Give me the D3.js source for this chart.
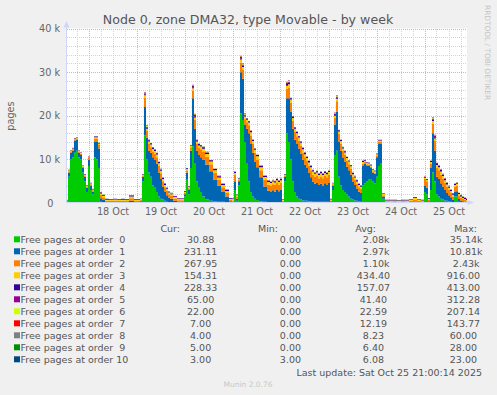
<!DOCTYPE html>
<html>
<head>
<meta charset="utf-8">
<script src="https://cdn.jsdelivr.net/npm/d3@7"></script>
<style>
  body { margin: 0; background: #f0f0f0; }
  svg { display: block; }
  text { font-family: "DejaVu Sans", sans-serif; }
</style>
</head>
<body>
<div id="chart"></div>
<script>
const width = 497, height = 395;
const plot = { left: 67, right: 467, top: 28.5, bottom: 203 };

// time axis: one sample every hour-ish, offsets from the start of the graph
const start = new Date(2025, 9, 17, 13, 15);
const end = new Date(2025, 9, 25, 21, 15);

const hours = [
  0,1,2,3,4,5,6,7,8,9,
  10,11,12,13,14,15,16,17,18,20,
  22,24,26,28,30,32,33,34,36,37,
  38,39,40,41,42,43,44,45,46,47,
  48,49,50,51,52,54,56,58,59,60,
  61,62,63,64,65,66,67,68,70,72,
  74,76,78,80,82,83,84,85,86,87,
  88,89,90,91,92,93,94,95,97,99,
  101,102,103,104,105,106,107,108,109,110,
  111,112,113,114,115,116,117,118,119,120,
  121,122,123,124,125,126,127,128,129,130,
  131,132,133,134,135,136,137,138,139,140,
  141,142,143,144,145,146,147,148,149,150,
  151,152,153,154,155,156,157,158,160,162,
  164,166,168,170,172,174,176,178,179,180,
  181,182,183,184,185,186,187,188,189,190,
  191,192,193,194,195,196,197,198,199,200
];

const order0 = [
  300,6000,10000,10500,11500,12000,10500,10000,7000,5000,
  2500,8500,3000,2000,10500,10000,8000,300,200,50,
  50,50,50,50,50,200,200,50,50,300,
  5000,15500,10000,7000,6000,4000,3500,2500,1500,1000,
  800,500,300,200,200,100,50,50,1500,5500,
  2000,8000,13000,9000,5000,3500,2500,1500,800,500,
  400,300,300,200,100,100,3000,500,4000,20500,
  19000,14000,9000,5000,2500,1500,1000,700,400,300,
  200,200,200,200,200,200,200,100,5000,16000,
  14000,10000,5000,2500,1500,1000,800,600,500,500,
  400,400,300,300,300,300,300,300,300,300,
  300,100,3000,11000,12000,6000,4000,3000,2500,2000,
  1500,1000,800,600,500,400,300,4000,4500,5000,
  5500,5500,5000,4500,6000,8500,9000,1000,50,50,
  50,50,50,50,50,150,50,50,2500,2000,
  200,3000,7000,5000,2000,1500,1000,800,600,500,
  400,300,200,1500,1500,300,200,100,100,31
];
const order1 = [
  100,1000,1500,1500,2800,2500,1000,1000,1000,1000,
  1000,1500,1000,600,3500,4000,4500,800,500,150,
  100,150,100,150,100,300,300,100,100,200,
  1000,6500,5000,5000,5500,6500,6500,6500,5500,4500,
  3000,2000,1500,1000,800,400,200,200,500,1500,
  1000,4000,11000,8000,7000,7500,8000,8500,8000,6800,
  5000,3700,2200,1300,300,200,2000,500,1000,9500,
  9500,4000,8000,11000,11000,10000,8500,7500,5500,3500,
  2600,2300,2700,2400,2800,2500,2800,200,1000,8000,
  10000,11000,12000,12000,12000,11500,10500,9300,8300,7500,
  6600,5500,4600,4100,4300,3800,4100,3700,4200,3800,
  4300,300,1000,7000,9000,8000,8000,7300,7000,6300,
  6000,5500,4000,3500,2800,2200,2000,4500,4500,3500,
  3000,2500,2000,2200,4500,5000,4500,500,100,100,
  100,50,100,100,100,200,100,100,1500,1500,
  200,5000,9000,7000,4000,4000,3500,3000,2400,1800,
  1400,1000,600,1000,1200,600,400,300,200,231
];
const order2 = [
  100,300,300,300,300,300,300,300,300,300,
  300,300,300,300,800,800,800,800,600,300,
  300,350,300,300,300,600,600,300,300,200,
  300,2200,1500,1500,1300,1300,1300,1500,1500,1300,
  1200,1100,1000,800,600,500,400,400,300,500,
  400,800,1800,2000,1500,1600,1800,1800,1800,1600,
  1500,1300,1100,800,300,300,1500,500,300,2200,
  2000,1200,1500,1800,2000,2000,2000,1800,1600,1500,
  1400,1500,1400,1500,1600,1500,1600,200,300,2200,
  2500,2000,1800,1800,1800,1800,1800,1700,1700,1600,
  1600,1600,1600,1600,1700,1600,1700,1700,1700,1800,
  1800,200,300,1500,2300,1800,1600,1600,1500,1400,
  1400,1300,1200,1200,1100,1000,900,500,400,400,
  300,300,300,300,400,500,500,300,250,200,
  250,200,250,200,300,450,300,250,1500,1500,
  300,1000,2200,2200,2000,2000,2000,1800,1600,1400,
  1200,1000,700,1200,1300,800,600,500,400,268
];
const order3 = [
  100,200,200,200,200,200,200,200,200,200,
  200,200,200,200,300,300,300,300,300,250,
  250,250,250,250,250,400,400,250,250,200,
  200,500,500,600,600,600,600,600,600,600,
  500,500,450,400,400,350,300,250,300,300,
  300,300,500,600,600,600,650,650,650,600,
  600,550,500,450,300,300,400,300,200,700,
  700,600,600,650,700,700,700,700,700,650,
  600,600,600,600,600,600,600,200,200,700,
  700,700,700,700,700,700,700,700,700,700,
  700,700,700,700,700,700,700,700,700,700,
  700,200,200,500,600,600,600,600,600,600,
  600,600,600,550,550,500,500,400,300,300,
  300,300,300,300,300,300,300,250,200,200,
  200,200,200,200,250,350,250,200,300,300,
  300,400,600,600,700,700,700,600,600,550,
  500,450,400,400,400,350,300,250,200,154
];
const order4 = [
  80,100,100,100,100,100,100,100,100,100,
  100,100,100,100,120,120,120,200,200,150,
  150,150,150,150,150,200,200,150,150,100,
  100,200,250,300,300,300,300,300,300,300,
  300,300,250,250,200,200,150,150,150,150,
  150,150,250,300,300,300,300,350,350,300,
  300,300,250,250,150,150,200,150,100,300,
  300,250,250,300,300,300,300,300,300,300,
  280,280,280,280,280,280,280,100,100,350,
  350,300,300,300,300,300,300,300,300,300,
  300,300,300,300,300,300,300,300,300,300,
  300,100,100,200,250,250,250,250,250,250,
  250,250,250,250,250,250,250,200,150,150,
  150,150,150,150,150,150,150,150,120,120,
  120,120,120,120,120,150,120,120,150,150,
  150,200,300,300,400,400,400,350,350,350,
  300,300,250,250,250,250,250,250,230,228
];
const order5 = [
  20,20,20,20,20,20,20,20,20,20,
  20,20,20,20,60,60,60,60,60,20,
  20,20,20,20,20,60,60,20,20,20,
  20,250,250,60,60,60,60,60,60,60,
  60,60,60,60,60,60,20,20,20,20,
  20,60,250,250,60,60,60,60,60,60,
  60,60,60,60,20,20,60,20,20,250,
  250,250,60,60,60,60,60,60,60,60,
  60,60,60,60,60,60,60,20,20,250,
  250,60,60,60,60,60,60,60,60,60,
  60,60,60,60,60,60,60,60,60,60,
  60,20,20,250,250,60,60,60,60,60,
  60,60,60,60,60,60,60,60,20,20,
  20,20,20,20,20,60,60,20,20,20,
  20,20,20,20,20,20,20,20,60,60,
  20,60,250,250,60,60,60,60,60,60,
  60,60,60,60,60,60,60,60,60,65
];
const order6 = [
  10,10,10,10,10,10,10,10,10,10,
  10,10,10,10,30,30,30,30,30,10,
  10,10,10,10,10,30,30,10,10,10,
  10,150,150,30,30,30,30,30,30,30,
  30,30,30,30,30,30,10,10,10,10,
  10,30,150,150,30,30,30,30,30,30,
  30,30,30,30,10,10,30,10,10,150,
  150,150,30,30,30,30,30,30,30,30,
  30,30,30,30,30,30,30,10,10,150,
  150,30,30,30,30,30,30,30,30,30,
  30,30,30,30,30,30,30,30,30,30,
  30,10,10,150,150,30,30,30,30,30,
  30,30,30,30,30,30,30,30,10,10,
  10,10,10,10,10,30,30,10,10,10,
  10,10,10,10,10,10,10,10,30,30,
  10,30,150,150,30,30,30,30,30,30,
  30,30,30,30,30,30,30,30,30,22
];
const order7 = [
  5,5,5,5,5,5,5,5,5,5,
  5,5,5,5,15,15,15,15,15,5,
  5,5,5,5,5,15,15,5,5,5,
  5,90,90,15,15,15,15,15,15,15,
  15,15,15,15,15,15,5,5,5,5,
  5,15,90,90,15,15,15,15,15,15,
  15,15,15,15,5,5,15,5,5,90,
  90,90,15,15,15,15,15,15,15,15,
  15,15,15,15,15,15,15,5,5,90,
  90,15,15,15,15,15,15,15,15,15,
  15,15,15,15,15,15,15,15,15,15,
  15,5,5,90,90,15,15,15,15,15,
  15,15,15,15,15,15,15,15,5,5,
  5,5,5,5,5,15,15,5,5,5,
  5,5,5,5,5,5,5,5,15,15,
  5,15,90,90,15,15,15,15,15,15,
  15,15,15,15,15,15,15,15,15,7
];
const order8 = [
  4,4,4,4,4,4,4,4,4,4,
  4,4,4,4,10,10,10,10,10,4,
  4,4,4,4,4,10,10,4,4,4,
  4,40,40,10,10,10,10,10,10,10,
  10,10,10,10,10,10,4,4,4,4,
  4,10,40,40,10,10,10,10,10,10,
  10,10,10,10,4,4,10,4,4,40,
  40,40,10,10,10,10,10,10,10,10,
  10,10,10,10,10,10,10,4,4,40,
  40,10,10,10,10,10,10,10,10,10,
  10,10,10,10,10,10,10,10,10,10,
  10,4,4,40,40,10,10,10,10,10,
  10,10,10,10,10,10,10,10,4,4,
  4,4,4,4,4,10,10,4,4,4,
  4,4,4,4,4,4,4,4,10,10,
  4,10,40,40,10,10,10,10,10,10,
  10,10,10,10,10,10,10,10,10,4
];
const order9 = [
  4,4,4,4,4,4,4,4,4,4,
  4,4,4,4,7,7,7,7,7,4,
  4,4,4,4,4,7,7,4,4,4,
  4,20,20,7,7,7,7,7,7,7,
  7,7,7,7,7,7,4,4,4,4,
  4,7,20,20,7,7,7,7,7,7,
  7,7,7,7,4,4,7,4,4,20,
  20,20,7,7,7,7,7,7,7,7,
  7,7,7,7,7,7,7,4,4,20,
  20,7,7,7,7,7,7,7,7,7,
  7,7,7,7,7,7,7,7,7,7,
  7,4,4,20,20,7,7,7,7,7,
  7,7,7,7,7,7,7,7,4,4,
  4,4,4,4,4,7,7,4,4,4,
  4,4,4,4,4,4,4,4,7,7,
  4,7,20,20,7,7,7,7,7,7,
  7,7,7,7,7,7,7,7,7,5
];
const order10 = [
  4,4,4,4,4,4,4,4,4,4,
  4,4,4,4,6,6,6,6,6,4,
  4,4,4,4,4,6,6,4,4,4,
  4,15,15,6,6,6,6,6,6,6,
  6,6,6,6,6,6,4,4,4,4,
  4,6,15,15,6,6,6,6,6,6,
  6,6,6,6,4,4,6,4,4,15,
  15,15,6,6,6,6,6,6,6,6,
  6,6,6,6,6,6,6,4,4,15,
  15,6,6,6,6,6,6,6,6,6,
  6,6,6,6,6,6,6,6,6,6,
  6,4,4,15,15,6,6,6,6,6,
  6,6,6,6,6,6,6,6,4,4,
  4,4,4,4,4,6,6,4,4,4,
  4,4,4,4,4,4,4,4,6,6,
  4,6,15,15,6,6,6,6,6,6,
  6,6,6,6,6,6,6,6,6,3
];

const seriesNames = [
  "Free pages at order  0", "Free pages at order  1", "Free pages at order  2",
  "Free pages at order  3", "Free pages at order  4", "Free pages at order  5",
  "Free pages at order  6", "Free pages at order  7", "Free pages at order  8",
  "Free pages at order  9", "Free pages at order 10"
];
const seriesColors = [
  "#00cc00", "#0066b3", "#ff8000", "#ffcc00", "#330099", "#990099",
  "#ccff00", "#ff0000", "#808080", "#008f00", "#00487d"
];
const curValues = ["30.88", "231.11", "267.95", "154.31", "228.33", "65.00", "22.00", "7.00", "4.00", "5.00", "3.00"];
const minValues = ["0.00", "0.00", "0.00", "0.00", "0.00", "0.00", "0.00", "0.00", "0.00", "0.00", "3.00"];
const avgValues = ["2.08k", "2.97k", "1.10k", "434.40", "157.07", "41.40", "22.59", "12.19", "8.23", "6.40", "6.08"];
const maxValues = ["35.14k", "10.81k", "2.43k", "916.00", "413.00", "312.28", "207.14", "143.77", "60.00", "28.00", "23.00"];

const yTicks = [0, 10000, 20000, 30000, 40000];

const allSeries = [order0, order1, order2, order3, order4, order5, order6, order7, order8, order9, order10];
const keys = seriesNames.map((d, i) => "o" + i);
const rows = hours.map((h, i) => {
  const r = { t: new Date(start.getTime() + h * 3600e3) };
  allSeries.forEach((s, k) => { r["o" + k] = s[i]; });
  return r;
});

const svg = d3.select("#chart").append("svg")
  .attr("width", width)
  .attr("height", height);

svg.append("rect").attr("width", width).attr("height", height).attr("fill", "#f0f0f0");
svg.append("rect")
  .attr("x", plot.left).attr("y", plot.top)
  .attr("width", plot.right - plot.left).attr("height", plot.bottom - plot.top)
  .attr("fill", "#ffffff");

const x = d3.scaleTime().domain([start, end]).range([plot.left, plot.right]);
const y = d3.scaleLinear().domain([0, 40000]).range([plot.bottom, plot.top]);

// grid, behind the areas
const grid = svg.append("g").attr("shape-rendering", "crispEdges").attr("stroke-width", 1)
  .attr("stroke-dasharray", "1,1").attr("fill", "none");

const minorY = d3.range(2000, 40001, 2000).filter(v => v % 10000 !== 0);
grid.selectAll(".hmin").data(minorY).join("line")
  .attr("x1", plot.left).attr("x2", plot.right)
  .attr("y1", d => Math.round(y(d)) + 0.5).attr("y2", d => Math.round(y(d)) + 0.5)
  .attr("stroke", "#d4d4d4");

const minorX = d3.timeHour.every(6).range(start, end).filter(d => d.getHours() !== 0);
grid.selectAll(".vmin").data(minorX).join("line")
  .attr("x1", d => Math.round(x(d)) + 0.5).attr("x2", d => Math.round(x(d)) + 0.5)
  .attr("y1", plot.top).attr("y2", plot.bottom)
  .attr("stroke", "#d4d4d4");

grid.selectAll(".hmaj").data([10000, 20000, 30000, 40000]).join("line")
  .attr("x1", plot.left).attr("x2", plot.right)
  .attr("y1", d => Math.round(y(d)) + 0.5).attr("y2", d => Math.round(y(d)) + 0.5)
  .attr("stroke", "#f2a6a6");

grid.selectAll(".vmaj").data(d3.timeDay.range(start, end)).join("line")
  .attr("x1", d => Math.round(x(d)) + 0.5).attr("x2", d => Math.round(x(d)) + 0.5)
  .attr("y1", plot.top).attr("y2", plot.bottom)
  .attr("stroke", "#f2a6a6");

// stacked areas, drawn in steps like rrdtool columns
const stacked = d3.stack().keys(keys)(rows);
const area = d3.area()
  .curve(d3.curveStep)
  .x(d => x(d.data.t))
  .y0(d => y(d[0]))
  .y1(d => y(d[1]));

svg.append("g").selectAll("path").data(stacked).join("path")
  .attr("fill", (d, i) => seriesColors[i])
  .attr("d", area);

// axes lines and arrows
const axisColor = "#cfd6f8";
svg.append("line").attr("x1", plot.left - 0.5).attr("x2", plot.left - 0.5)
  .attr("y1", plot.bottom).attr("y2", 26).attr("stroke", axisColor);
svg.append("line").attr("x1", plot.left - 1).attr("x2", plot.right + 1)
  .attr("y1", plot.bottom - 0.5).attr("y2", plot.bottom - 0.5).attr("stroke", axisColor);
svg.append("path").attr("d", "M63.5,27.5L66.5,21L69.5,27.5Z").attr("fill", axisColor);
svg.append("path").attr("d", "M467.5,200L474,202.5L467.5,205Z").attr("fill", axisColor);

// tick labels
const yAxis = svg.append("g")
  .attr("transform", `translate(${plot.left - 4},0)`)
  .call(d3.axisLeft(y).tickValues(yTicks).tickSize(0).tickPadding(3)
    .tickFormat(d => d === 0 ? "0" : d / 1000 + " k"));
yAxis.select(".domain").remove();
yAxis.selectAll("text")
  .attr("font-family", "DejaVu Sans").attr("font-size", "9.7px").attr("fill", "#666")
  .attr("x", d => d === 0 ? -9.5 : -3);

const noons = d3.timeDay.range(start, end).map(d => d3.timeHour.offset(d, 12)).filter(d => d < end);
const xAxis = svg.append("g")
  .attr("transform", `translate(0,${plot.bottom})`)
  .call(d3.axisBottom(x).tickValues(noons).tickSize(0).tickPadding(5.5)
    .tickFormat(d3.timeFormat("%d %b")));
xAxis.select(".domain").remove();
xAxis.selectAll("text")
  .attr("font-family", "DejaVu Sans").attr("font-size", "9.7px").attr("fill", "#666");

// titles
svg.append("text")
  .attr("x", 248).attr("y", 23.5)
  .attr("text-anchor", "middle")
  .attr("font-size", "12.6px").attr("fill", "#555")
  .text("Node 0, zone DMA32, type Movable - by week");

svg.append("text")
  .attr("transform", "translate(13.5,116) rotate(-90)")
  .attr("text-anchor", "middle")
  .attr("font-size", "9.7px").attr("fill", "#666")
  .text("pages");

svg.append("text")
  .attr("transform", "translate(485,5) rotate(90)")
  .attr("font-size", "7.4px").attr("fill", "#c4c4c4")
  .text("RRDTOOL / TOBI OETIKER");

// legend
const legendFont = "9.5px";
const headY = 231.8;
[["Cur:", 180], ["Min:", 278], ["Avg:", 376], ["Max:", 477]].forEach(([t, hx]) => {
  svg.append("text").attr("x", hx).attr("y", headY).attr("text-anchor", "end")
    .attr("font-size", legendFont).attr("fill", "#555").text(t);
});

function pad(v) {
  const num = v.replace(/k$/, "");
  return " ".repeat(Math.max(0, 6 - num.length)) + v;
}

const colStarts = [184, 273.8, 356.8, 446.8];
const legend = svg.append("g").attr("font-size", legendFont).attr("fill", "#555");
seriesNames.forEach((name, i) => {
  const cy = 239.3 + i * 12;
  legend.append("rect").attr("x", 14).attr("y", cy - 3).attr("width", 6).attr("height", 6)
    .attr("fill", seriesColors[i]);
  legend.append("text").attr("x", 20.5).attr("y", cy + 3.5)
    .style("white-space", "pre").text(name);
  [curValues[i], minValues[i], avgValues[i], maxValues[i]].forEach((v, c) => {
    legend.append("text").attr("x", colStarts[c]).attr("y", cy + 3.5)
      .style("white-space", "pre").text(pad(v));
  });
});

svg.append("text")
  .attr("x", 482).attr("y", 375.5).attr("text-anchor", "end")
  .attr("font-size", legendFont).attr("fill", "#555")
  .text("Last update: Sat Oct 25 21:00:14 2025");

svg.append("text")
  .attr("x", 248).attr("y", 387)
  .attr("text-anchor", "middle")
  .attr("font-size", "7.5px").attr("fill", "#c8c8c8")
  .text("Munin 2.0.76");
</script>
</body>
</html>
